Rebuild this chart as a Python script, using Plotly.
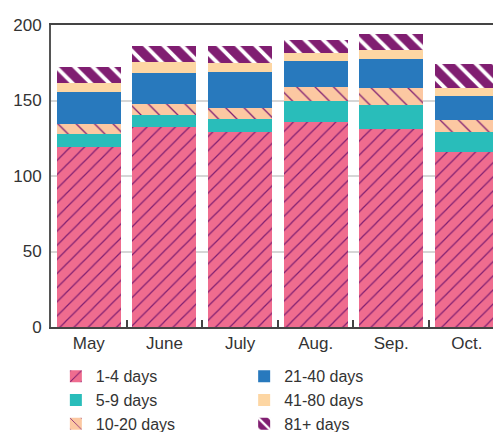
import plotly.graph_objects as go

# Monthly counts, stacked by duration band
months = ["May", "June", "July", "Aug.", "Sep.", "Oct."]
days_1_4 = [119.0, 132.3, 129.1, 135.8, 130.9, 115.7]
days_5_9 = [8.6, 7.9, 8.4, 13.7, 15.9, 13.2]
days_10_20 = [6.6, 7.3, 7.3, 9.2, 11.5, 8.0]
days_21_40 = [21.2, 20.5, 23.9, 17.3, 19.0, 15.9]
days_41_80 = [6.0, 7.3, 5.9, 5.3, 5.9, 5.7]
days_81_plus = [10.6, 10.6, 11.3, 8.6, 10.6, 15.5]

y_ticks = [0, 50, 100, 150, 200]

PINK = "#EF6C8F"
PURPLE = "#801E71"
TEAL = "#29BDBA"
PEACH = "#FCC8A2"
BLUE = "#2879BD"
SAND = "#FDD6A3"
TEXT = "#333333"

series = [
    ("1-4 days", days_1_4, PINK, dict(shape="/", bgcolor=PINK, fgcolor=PURPLE, size=10, solidity=0.12), "legend"),
    ("5-9 days", days_5_9, TEAL, None, "legend"),
    ("10-20 days", days_10_20, PEACH, dict(shape="\\", bgcolor=PEACH, fgcolor=PURPLE, size=13, solidity=0.1), "legend"),
    ("21-40 days", days_21_40, BLUE, None, "legend2"),
    ("41-80 days", days_41_80, SAND, None, "legend2"),
    ("81+ days", days_81_plus, PURPLE, dict(shape="\\", bgcolor=PURPLE, fgcolor="#FFFFFF", size=13, solidity=0.3), "legend2"),
]

fig = go.Figure()
for name, vals, color, pattern, leg in series:
    marker = dict(color=color, line=dict(width=0))
    if pattern:
        marker["pattern"] = dict(fillmode="replace", **pattern)
    fig.add_trace(go.Bar(x=months, y=vals, name=name, marker=marker, legend=leg))

legend_style = dict(
    y=-0.107, xanchor="left", yanchor="top",
    orientation="v", traceorder="normal",
    font=dict(size=16, color=TEXT), bgcolor="rgba(0,0,0,0)",
    itemwidth=30, tracegroupgap=0,
)

fig.update_layout(
    width=493,
    height=432,
    margin=dict(l=51, r=0, t=25, b=105, autoexpand=False),
    barmode="stack",
    bargap=0.153,
    plot_bgcolor="white",
    paper_bgcolor="white",
    font=dict(family="Liberation Sans, Arial, sans-serif", size=16, color=TEXT),
    legend=dict(x=0.011, **legend_style),
    legend2=dict(x=0.437, **legend_style),
)

fig.update_xaxes(
    type="category",
    range=[-0.5, 5.346],
    showline=True, linecolor="#444444", linewidth=2, mirror=True,
    ticks="inside", tickson="boundaries", ticklen=7, tickwidth=1.5, tickcolor="#444444",
    tickfont=dict(size=17, color=TEXT),
    showgrid=False,
)
fig.update_yaxes(
    range=[0, 200],
    tickvals=y_ticks,
    showline=True, linecolor="#555555", linewidth=2,
    showgrid=True, gridcolor="#D6D6D6", gridwidth=1.5,
    zeroline=False,
    ticks="", ticklabelstandoff=4,
    tickfont=dict(size=17, color=TEXT),
)

fig.write_html("out.html")
